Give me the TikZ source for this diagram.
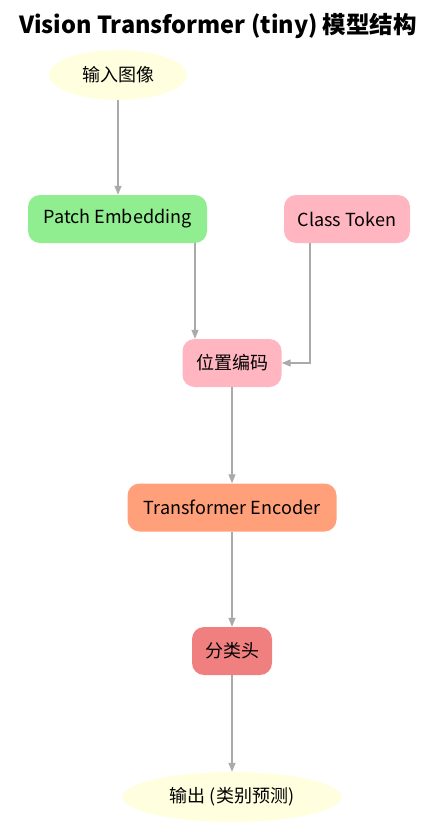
\documentclass[tikz,border=0pt]{standalone}
\usepackage{fontspec}
\setmainfont{Noto Sans CJK SC}
\usetikzlibrary{shapes.geometric,arrows.meta}
\definecolor{lyellow}{HTML}{FFFFE0}
\definecolor{lgreen}{HTML}{90EE90}
\definecolor{lpink}{HTML}{FFB6C1}
\definecolor{lsalmon}{HTML}{FFA07A}
\definecolor{lcoral}{HTML}{F08080}
\definecolor{edgegray}{HTML}{AAAAAA}
\tikzset{
  box/.style={rounded corners=12pt, minimum height=48pt, inner xsep=5pt, font=\fontsize{18}{21}\selectfont, text=black},
  oval/.style={ellipse, fill=lyellow, inner sep=1pt, font=\fontsize{18}{21}\selectfont},
  link/.style={draw=edgegray, line width=1.3pt, -{Triangle[length=9pt,width=7pt]}}
}
\begin{document}
\begin{tikzpicture}[x=1pt,y=-1pt]
\useasboundingbox (0,0) rectangle (438,827);
\node[font=\bfseries\fontsize{23.5}{27}\selectfont] (title) at (218,26) {Vision Transformer (tiny) 模型结构};
\node[oval, minimum width=138pt, minimum height=50pt] (in) at (118,75) {输入图像};
\node[box, fill=lgreen, minimum width=179pt] (pe) at (117.5,219) {Patch Embedding};
\node[box, fill=lpink, minimum width=126pt] (ct) at (347,219) {Class Token};
\node[box, fill=lpink, minimum width=99pt] (pos) at (232,363) {位置编码};
\node[box, fill=lsalmon, minimum width=209pt] (te) at (232,507.5) {Transformer Encoder};
\node[box, fill=lcoral, minimum width=80pt] (cls) at (232,651) {分类头};
\node[oval, minimum width=219pt, minimum height=50pt] (out) at (232,797) {输出 (类别预测)};
\draw[link] (in.south) -- (pe.north -| in.south);
\draw[link] (pe.south -| 195,0) coordinate (a) -- (a |- pos.north);
\draw[link] (ct.south -| 310,0) coordinate (b) -- (b |- pos.east) -- (pos.east);
\draw[link] (pos.south) -- (pos.south |- te.north);
\draw[link] (te.south -| cls.north) -- (cls.north);
\draw[link] (cls.south) -- (out.north);
\end{tikzpicture}
\end{document}
